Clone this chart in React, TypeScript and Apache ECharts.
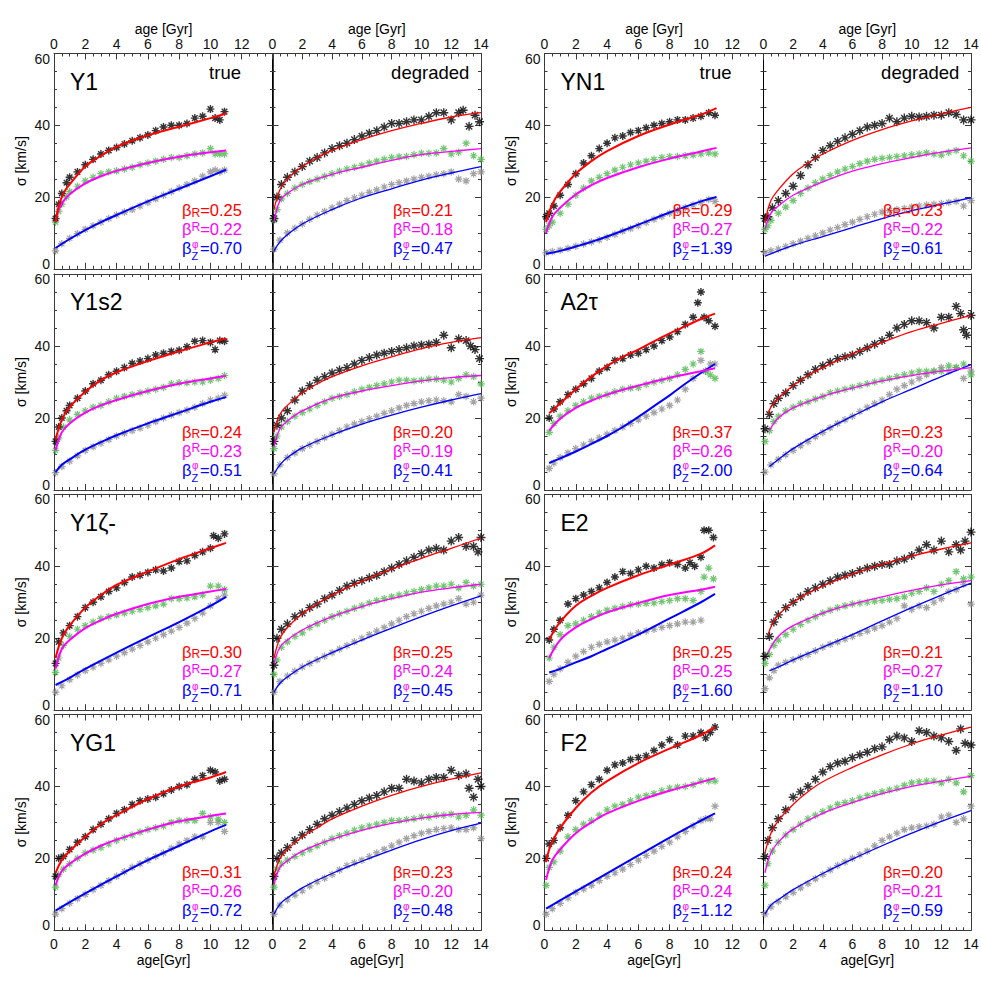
import React, { useEffect, useRef } from 'react';
import * as echarts from 'echarts';

const FONT = '"Liberation Sans", Arial, Helvetica, sans-serif';

// ---------- model names and fitted exponents ----------
const models = ['Y1', 'Y1s2', 'Y1ζ-', 'YG1', 'YN1', 'A2τ', 'E2', 'F2'];
const betaTrue = [[0.25, 0.22, 0.70], [0.24, 0.23, 0.51], [0.30, 0.27, 0.71], [0.31, 0.26, 0.72], [0.29, 0.27, 1.39], [0.37, 0.26, 2.00], [0.25, 0.25, 1.60], [0.24, 0.24, 1.12]];
const betaDeg = [[0.21, 0.18, 0.47], [0.20, 0.19, 0.41], [0.25, 0.24, 0.45], [0.23, 0.20, 0.48], [0.23, 0.22, 0.61], [0.23, 0.20, 0.64], [0.21, 0.27, 1.10], [0.20, 0.21, 0.59]];

// ---------- Y1 ----------
const Y1T_R = [[0.1,14],[0.3,18],[0.5,21],[0.8,24],[1,25.5],[1.5,27],[2,29],[2.5,30.5],[3,32],[3.5,33],[4,33.8],[4.5,34.8],[5,35.7],[5.5,36.5],[6,37.3],[6.5,38.5],[7,39.5],[7.5,40],[8,40],[8.5,40.5],[9,42],[9.5,42.5],[10,44.5],[10.3,42],[10.6,41.5],[10.9,43.8]];
const Y1T_P = [[0.1,13],[0.3,16],[0.5,18],[0.8,20],[1,21.5],[1.5,23],[2,24.5],[2.5,25.5],[3,26.5],[3.5,27],[4,27.3],[4.5,27.8],[5,28.3],[5.5,29],[6,29.5],[6.5,30],[7,30.5],[7.5,31],[8,31],[8.5,31.5],[9,32],[9.5,32.3],[10,33.5],[10.3,32],[10.6,32],[10.9,32]];
const Y1T_Z = [[0.1,5],[0.5,7],[1,8.5],[1.5,9.8],[2,11],[2.5,12],[3,13],[3.5,14],[4,15],[4.5,15.8],[5,16.5],[5.5,17.5],[6,18.5],[6.5,19.5],[7,20.5],[7.5,21.5],[8,22.5],[8.5,23.5],[9,24.5],[9.5,25.8],[10,27],[10.3,27.5],[10.6,27],[10.9,27.5]];
const Y1T_fR = [[0.1,13],[0.3,17.5],[0.6,21],[1,23.5],[2,28.5],[3,31.5],[4,34],[6,37.2],[8,39.6],[10,42],[11,43.3]];
const Y1T_fP = [[0.1,13.5],[0.3,16.5],[0.6,18.8],[1,20.8],[2,23.8],[3,25.8],[4,27.3],[6,29.5],[8,31.2],[10,32.5],[11,33]];
const Y1T_fZ = [[0.1,5.8],[1,8.3],[2,10.8],[3,13],[4,15],[6,18.8],[8,22.3],[10,25.8],[11,27.6]];
const Y1D_R = [[0.1,14],[0.3,20],[0.6,23.5],[1,25.5],[1.5,27],[2,28.5],[2.5,30],[3,31],[3.5,32.3],[4,33.5],[4.5,34.3],[5,35],[5.5,36],[6,37],[6.5,37.8],[7,38.5],[7.5,39.5],[8,40.5],[8.5,40.5],[9,41],[9.5,41.5],[10,41.5],[10.5,42.5],[11,43.5],[11.5,43.5],[12,41.5],[12.5,43.5],[12.8,44.2],[13.2,39.7],[13.6,42.8],[13.9,41]];
const Y1D_P = [[0.1,13.5],[0.3,16.5],[0.6,19.5],[1,21],[1.5,22.5],[2,23.5],[2.5,24.3],[3,25],[3.5,25.8],[4,26.5],[4.5,27.2],[5,27.8],[5.5,28.3],[6,28.8],[6.5,29.5],[7,30],[7.5,30.5],[8,31],[8.5,31.2],[9,31.3],[9.5,31.8],[10,32.2],[10.5,32.2],[11,32.3],[11.5,33.5],[12,32],[12.5,32.5],[13,35],[13.5,31.5],[14,30.5]];
const Y1D_Z = [[0.1,5.5],[0.5,8],[1,10],[1.5,11.3],[2,12.5],[2.5,13.8],[3,15],[3.5,16],[4,17],[4.5,18],[5,19],[5.5,19.8],[6,20.5],[6.5,21.3],[7,22],[7.5,22.8],[8,23.5],[8.5,24],[9,24.5],[9.5,25],[10,25.5],[10.5,25.8],[11,26.2],[11.5,26.5],[12,27],[12.5,25],[13,24.5],[13.5,26.5],[14,27]];
const Y1D_fR = [[0.1,16.5],[0.5,22],[1,25],[2,28.5],[3,31],[4,33],[6,36],[8,38.5],[10,40.5],[12,42.3],[14,43.5]];
const Y1D_fP = [[0.1,13],[0.5,19],[1,21],[2,23.5],[4,26.3],[6,28.3],[8,30.2],[10,31.8],[12,32.7],[14,33.5]];
const Y1D_fZ = [[0.1,5],[0.5,7.5],[1,9.5],[2,12.5],[4,16.5],[6,19.8],[8,22.3],[10,24.7],[12,26.7],[14,28.5]];

// ---------- Y1s2 ----------
const Y1s2T_R = [[0.1,13.5],[0.3,17.5],[0.5,20],[0.8,22],[1,23.5],[1.5,25.5],[2,27.5],[2.5,29.5],[3,30.5],[3.5,32],[4,33],[4.5,34],[5,35.2],[5.5,35.8],[6,36.5],[6.5,37.5],[7,38],[7.5,38.5],[8,38.8],[8.5,39.8],[9,41.3],[9.5,41.5],[10,41],[10.3,39],[10.6,41.5],[10.9,41.3]];
const Y1s2T_P = [[0.1,11],[0.3,14.5],[0.6,17.5],[1,19.5],[1.5,21],[2,22],[2.5,23],[3,23.5],[3.5,24.5],[4,25.5],[4.5,26],[5,26.5],[5.5,27],[6,27.5],[6.5,28],[7,28.5],[7.5,29.5],[8,29.8],[8.5,29.8],[9,30],[9.5,30],[10,30.5],[10.5,31],[10.9,31.8]];
const Y1s2T_Z = [[0.1,4.8],[0.5,6.5],[1,8],[1.5,9.5],[2,11],[2.5,12],[3,13],[3.5,14],[4,15],[4.5,15.8],[5,16.5],[5.5,17.2],[6,18],[6.5,19],[7,20],[7.5,20.8],[8,21.5],[8.5,22.2],[9,23],[9.5,24],[10,25],[10.5,25.5],[10.9,26.3]];
const Y1s2T_fR = [[0.1,14],[0.5,19.5],[1,23],[2,27.3],[3,30.5],[4,32.7],[6,35.8],[8,38.5],[10,41],[11,42]];
const Y1s2T_fP = [[0.1,11],[0.5,16],[1,18.5],[2,21.5],[3,23.5],[4,25],[6,27.5],[8,29.5],[10,31],[11,31.7]];
const Y1s2T_fZ = [[0.1,5],[0.5,7],[1,8.5],[2,11.2],[3,13.3],[4,15.2],[6,18.5],[8,21.5],[10,24.5],[11,25.8]];
const Y1s2D_R = [[0.1,13.5],[0.3,18],[0.6,20],[1,22],[1.5,25],[2,27.5],[2.5,29],[3,30.5],[3.5,31.5],[4,32.5],[4.5,33.3],[5,34],[5.5,35],[6,36],[6.5,36.8],[7,37.5],[7.5,38],[8,38.5],[8.5,39],[9,39.5],[9.5,40],[10,40.3],[10.5,40.5],[11,41],[11.5,43],[12,39.5],[12.5,42],[13,41.5],[13.3,40],[13.6,39],[13.9,36.5]];
const Y1s2D_P = [[0.1,11.5],[0.3,15],[0.6,17.5],[1,19],[1.5,20.5],[2,21.5],[2.5,22.5],[3,23.5],[3.5,24.5],[4,25.5],[4.5,26],[5,26.5],[5.5,27.3],[6,28],[6.5,28.5],[7,29],[7.5,29.5],[8,30],[8.5,30.5],[9,30.5],[9.5,30.3],[10,30.5],[10.5,30.8],[11,30.8],[11.5,30.5],[12,30],[12.5,31],[13,32],[13.5,31.5],[14,29.5]];
const Y1s2D_Z = [[0.1,4.5],[0.5,7],[1,9],[1.5,10.3],[2,11.5],[2.5,12.5],[3,13.5],[3.5,14.5],[4,15.5],[4.5,16.5],[5,17.5],[5.5,18.3],[6,19],[6.5,19.8],[7,20.5],[7.5,21.3],[8,22],[8.5,22.8],[9,23.5],[9.5,24],[10,24.5],[10.5,24.8],[11,25],[11.5,24.8],[12,24.5],[12.5,26.5],[13,26],[13.5,24.5],[14,25.5]];
const Y1s2D_fR = [[0.1,16],[0.5,21],[1,23.5],[2,27],[3,29.5],[4,31.5],[6,34.5],[8,37],[10,39.3],[12,41],[14,42.3]];
const Y1s2D_fP = [[0.1,12],[0.5,17],[1,19.2],[2,22],[4,25.5],[6,27.5],[8,29],[10,30.3],[12,31.2],[14,31.8]];
const Y1s2D_fZ = [[0.1,4.5],[0.5,7],[1,9],[2,11.7],[4,15.3],[6,18.3],[8,20.8],[10,23],[12,25],[14,26.8]];

// ---------- Y1zeta- ----------
const Y1zT_R = [[0.1,13],[0.3,19],[0.6,21.5],[1,23.5],[1.5,26],[2,28.5],[2.5,30],[3,31.5],[3.5,33],[4,34],[4.5,35.5],[5,37],[5.5,37.5],[6,38.3],[6.5,39],[7,38.7],[7.5,39.5],[8,41.3],[8.5,41.5],[9,43],[9.5,44],[10,45],[10.2,48.5],[10.5,47.8],[10.9,49]];
const Y1zT_P = [[0.1,10.5],[0.3,14.5],[0.6,18],[1,20.5],[1.5,22.5],[2,23.5],[2.5,24.5],[3,25.5],[3.5,26],[4,26.5],[4.5,27],[5,27.5],[5.5,28],[6,28.5],[6.5,29],[7,29.5],[7.5,31],[8,31],[8.5,31.2],[9,31.5],[9.5,32],[10,34.5],[10.5,34.5],[10.9,33.5]];
const Y1zT_Z = [[0.1,5],[0.5,6.8],[1,8.5],[1.5,9.8],[2,11],[2.5,12],[3,13],[3.5,14],[4,15],[4.5,16],[5,17],[5.5,18],[6,19],[6.5,20],[7,21],[7.5,22],[8,23],[8.5,24.2],[9,25.5],[9.5,27],[10,29],[10.5,31],[10.9,32]];
const Y1zT_fR = [[0.1,14.5],[0.5,20],[1,23.5],[2,28.5],[3,32],[4,34.8],[6,38.5],[8,42],[10,45],[11,46.5]];
const Y1zT_fP = [[0.1,11.5],[0.5,17],[1,19.5],[2,22.8],[3,25],[4,26.8],[6,29.5],[8,31.5],[10,33],[11,33.7]];
const Y1zT_fZ = [[0.1,7],[1,9],[2,11.5],[4,16],[6,20.3],[8,24.5],[10,29],[11,31.5]];
const Y1zD_R = [[0.1,12.5],[0.3,20],[0.6,22.5],[1,24],[1.5,26],[2,27],[2.5,28.5],[3,29.5],[3.5,31],[4,32],[4.5,33.3],[5,34.5],[5.5,35.3],[6,36],[6.5,36.8],[7,37.5],[7.5,38.5],[8,39.5],[8.5,40.5],[9,41.5],[9.5,42.5],[10,43.5],[10.5,44.5],[11,45],[11.5,44.5],[12,47],[12.5,48],[13,45.5],[13.5,45.5],[13.8,44],[14,48]];
const Y1zD_P = [[0.1,10],[0.3,14],[0.6,17.5],[1,19],[1.5,20.5],[2,21.5],[2.5,23],[3,24],[3.5,25],[4,26],[4.5,26.8],[5,27.5],[5.5,28.3],[6,29],[6.5,29.8],[7,30.5],[7.5,31],[8,31.5],[8.5,32],[9,32.5],[9.5,33],[10,33.5],[10.5,34],[11,34.5],[11.5,34.5],[12,35],[12.5,34],[13,35.5],[13.5,34.5],[14,35]];
const Y1zD_Z = [[0.1,5],[0.5,8],[1,9.5],[1.5,10.8],[2,12],[2.5,13],[3,14],[3.5,15],[4,16],[4.5,17],[5,18],[5.5,19],[6,20],[6.5,21],[7,22],[7.5,23],[8,24],[8.5,25],[9,26],[9.5,26.8],[10,27.5],[10.5,28.3],[11,29],[11.5,29.5],[12,30],[12.5,31],[13,29.5],[13.5,30],[14,32]];
const Y1zD_fR = [[0.1,14.5],[0.5,20],[1,23],[2,26.8],[3,29.5],[4,32],[6,35.8],[8,39.2],[10,42.2],[12,45],[14,47.8]];
const Y1zD_fP = [[0.1,13],[0.5,17.5],[1,19.5],[2,22.3],[4,26],[6,28.8],[8,31],[10,32.8],[12,34],[14,35]];
const Y1zD_fZ = [[0.1,5],[0.5,7.5],[1,9.2],[2,12],[4,16],[6,19.5],[8,22.8],[10,26],[12,29],[14,31.8]];

// ---------- YG1 ----------
const YG1T_R = [[0.1,15],[0.3,20],[0.6,20.5],[1,22.5],[1.5,24.5],[2,26],[2.5,28],[3,29.5],[3.5,31],[4,32.5],[4.5,33.5],[5,35],[5.5,36],[6,36.5],[6.5,37],[7,38],[7.5,39],[8,40],[8.5,40.5],[9,42],[9.5,43],[10,44.5],[10.3,44],[10.6,41.5],[10.9,42]];
const YG1T_P = [[0.1,12],[0.3,15.5],[0.6,17],[1,18.5],[1.5,20],[2,21.5],[2.5,22.3],[3,23],[3.5,24],[4,25],[4.5,25.8],[5,26.5],[5.5,27.3],[6,28],[6.5,28.5],[7,29],[7.5,30],[8,30.5],[8.5,30.5],[9,30.5],[9.5,32.5],[10,31.5],[10.5,31],[10.9,30]];
const YG1T_Z = [[0.1,4.5],[0.5,6],[1,7.5],[1.5,8.8],[2,10],[2.5,11.3],[3,12.5],[3.5,13.8],[4,15],[4.5,16.3],[5,17.5],[5.5,18.5],[6,19.5],[6.5,20.5],[7,21.5],[7.5,22.8],[8,24],[8.5,25],[9,26],[9.5,26],[10,30],[10.5,30],[10.9,27.5]];
const YG1T_fR = [[0.1,16],[0.5,19.5],[1,22],[2,26],[3,29.5],[4,32],[6,36.5],[8,40],[10,42.5],[11,44]];
const YG1T_fP = [[0.1,12.5],[0.5,16.5],[1,18.5],[2,21.3],[3,23.5],[4,25.2],[6,28],[8,30.3],[10,31.8],[11,32.5]];
const YG1T_fZ = [[0.1,5.5],[1,7.8],[2,10.3],[4,15],[6,19.5],[8,23.5],[10,27.5],[11,29.3]];
const YG1D_R = [[0.1,15],[0.3,20],[0.6,21.5],[1,23],[1.5,25],[2,26.5],[2.5,28],[3,29.5],[3.5,31],[4,32],[4.5,33],[5,34],[5.5,35],[6,36],[6.5,36.8],[7,37.5],[7.5,38.5],[8,39.5],[8.5,39.5],[9,42],[9.5,41.5],[10,41],[10.5,42],[11,42.5],[11.5,42.5],[12,44.5],[12.5,43],[13,43.5],[13.2,39.5],[13.5,37],[13.8,42],[14,40]];
const YG1D_P = [[0.1,12],[0.3,17],[0.6,18.5],[1,19.5],[1.5,20.5],[2,21.5],[2.5,22.5],[3,23.5],[3.5,24.5],[4,25.5],[4.5,26.3],[5,27],[5.5,27.8],[6,28.5],[6.5,29],[7,29.5],[7.5,30],[8,30.5],[8.5,30.5],[9,30.8],[9.5,31],[10,31.5],[10.5,31.5],[11,32],[11.5,32],[12,32.3],[12.5,31.5],[13,32],[13.5,33.5],[14,32]];
const YG1D_Z = [[0.1,4.5],[0.5,7],[1,8.5],[1.5,9.8],[2,11],[2.5,12.3],[3,13.5],[3.5,14.5],[4,15.5],[4.5,16.8],[5,18],[5.5,18.8],[6,19.5],[6.5,20.5],[7,21.5],[7.5,22.5],[8,23.5],[8.5,24.5],[9,25.5],[9.5,26.3],[10,27],[10.5,27.5],[11,28],[11.5,28.3],[12,28.5],[12.5,28],[13,28],[13.5,28.5],[14,25.5]];
const YG1D_fR = [[0.1,15],[0.5,20],[1,22.5],[2,26],[3,28.5],[4,31],[6,34.5],[8,37.5],[10,40],[12,42],[14,43.8]];
const YG1D_fP = [[0.1,12.5],[0.5,17.5],[1,19.3],[2,22],[4,25.3],[6,27.8],[8,29.7],[10,31.2],[12,32.2],[14,32.8]];
const YG1D_fZ = [[0.1,4.5],[0.5,7.3],[1,9],[2,11.8],[4,15.8],[6,19.2],[8,22.3],[10,25.2],[12,27.7],[14,29.8]];

// ---------- YN1 ----------
const YN1T_R = [[0.1,14.5],[0.3,15.5],[0.6,17.5],[1,20.5],[1.5,23.5],[2,26.5],[2.5,29.5],[3,31.5],[3.5,33.5],[4,35],[4.5,36.5],[5,37],[5.5,38],[6,38.5],[6.5,39.3],[7,40],[7.5,40.5],[8,41],[8.5,41.5],[9,41.5],[9.5,42],[10,42.5],[10.5,43.5],[10.9,42.8]];
const YN1T_P = [[0.1,11],[0.3,12],[0.5,13],[1,15.5],[1.5,18],[2,20.5],[2.5,22.5],[3,24.5],[3.5,25.5],[4,26.5],[4.5,27.5],[5,28.3],[5.5,29],[6,29.5],[6.5,30],[7,30.5],[7.5,31],[8,31.3],[8.5,31.3],[9,31.5],[9.5,31.7],[10,32],[10.5,32.3],[10.9,32]];
const YN1T_Z = [[0.1,4.5],[0.5,4.8],[1,5.2],[1.5,5.7],[2,6.3],[2.5,6.9],[3,7.5],[3.5,8.1],[4,8.8],[4.5,9.6],[5,10.5],[5.5,11.2],[6,12],[6.5,12.9],[7,13.8],[7.5,14.6],[8,15.5],[8.5,16.2],[9,17],[9.5,17.8],[10,18.5],[10.5,19.3],[10.9,18.8]];
const YN1T_fR = [[0.1,13],[0.5,18],[1,21.5],[2,26.5],[3,30],[4,32.8],[6,37],[8,40.2],[10,43],[11,44.8]];
const YN1T_fP = [[0.1,10],[0.5,14.5],[1,17],[2,20.7],[3,23.3],[4,25.3],[6,28.3],[8,30.7],[10,32.7],[11,33.7]];
const YN1T_fZ = [[0.1,4.2],[1,5],[2,6.2],[3,7.5],[4,9],[6,12.3],[8,15.7],[10,18.8],[11,20]];
const YN1D_R = [[0.1,14],[0.3,14.5],[0.6,17],[1,19],[1.5,21],[2,23],[2.5,26],[3,29],[3.5,31],[4,33],[4.5,34.3],[5,35.5],[5.5,36.5],[6,37.5],[6.5,38.5],[7,39.5],[7.5,40],[8,40.5],[8.5,42],[9,41],[9.5,42],[10,42.5],[10.5,42.3],[11,42.5],[11.5,42.8],[12,42.8],[12.5,43.5],[13,43],[13.5,41.5],[14,41.5]];
const YN1D_P = [[0.1,11],[0.3,12],[0.5,13.5],[1,15.5],[1.5,17.2],[2,19],[2.5,21],[3,22.5],[3.5,24],[4,25],[4.5,26],[5,27],[5.5,27.8],[6,28.5],[6.5,29.3],[7,30],[7.5,30.5],[8,30.8],[8.5,31],[9,31.3],[9.5,31.5],[10,31.8],[10.5,32],[11,32.3],[11.5,32],[12,31.7],[12.5,32.5],[13,33],[13.5,31.5],[14,30]];
const YN1D_Z = [[0.1,4.5],[0.5,5],[1,5.5],[1.5,6.2],[2,7],[2.5,7.7],[3,8.5],[3.5,9.2],[4,10],[4.5,10.8],[5,11.5],[5.5,12.3],[6,13],[6.5,13.8],[7,14.5],[7.5,15.2],[8,15.8],[8.5,16.2],[9,16.5],[9.5,16.8],[10,17.2],[10.5,17.5],[11,17.8],[11.5,18],[12,18.2],[12.5,18.5],[13,18.8],[13.5,17.5],[14,19]];
const YN1D_fR = [[0.1,13],[0.5,19],[1,22],[2,26.5],[3,29.5],[4,32],[6,35.8],[8,38.8],[10,41.2],[12,43.2],[14,45]];
const YN1D_fP = [[0.1,11],[0.5,15.5],[1,17.5],[2,20.5],[4,24.2],[6,27.2],[8,29.3],[10,31],[12,32.5],[14,33.7]];
const YN1D_fZ = [[0.1,3.5],[1,5],[2,6.5],[4,9],[6,11.5],[8,14],[10,16.2],[12,18],[14,19.8]];

// ---------- A2tau ----------
const A2T_R = [[0.3,20],[0.6,22.5],[1,24.5],[1.5,26.5],[2,28],[2.5,29.5],[3,31],[3.5,33],[4,34],[4.5,36],[5,36.5],[5.5,37.5],[6,38],[6.5,39],[7,40],[7.5,41.5],[8,42.5],[8.5,44],[9,46],[9.5,48],[9.8,52],[10,55],[10.2,48],[10.5,47],[10.9,45.5]];
const A2T_P = [[0.3,16],[0.6,18.5],[1,20.5],[1.5,22],[2,23.5],[2.5,24.5],[3,25.5],[3.5,26],[4,26.5],[4.5,27.3],[5,28],[5.5,28.3],[6,28.5],[6.5,29.3],[7,30],[7.5,30.5],[8,31],[8.5,32],[9,33.5],[9.5,35],[10,38.5],[10.3,33],[10.6,32],[10.9,31]];
const A2T_Z = [[0.3,6],[0.6,7.5],[1,9],[1.5,10.3],[2,11.5],[2.5,12.5],[3,13.5],[3.5,14.5],[4,15.5],[4.5,16.5],[5,17.5],[5.5,18.5],[6,19.5],[6.5,20.5],[7,21.5],[7.5,22.5],[8,23.5],[8.5,25],[9,28],[9.5,31],[10,36],[10.3,33],[10.6,35],[10.9,35]];
const A2T_fR = [[0.3,21.3],[1,24],[2,28],[3,31.5],[4,34.5],[5,37],[6,39],[7,41.3],[8,43.5],[9,45.5],[10,47.5],[10.9,49]];
const A2T_fP = [[0.3,16.5],[1,19.8],[2,22.8],[3,24.8],[4,26.5],[6,29],[8,31.2],[10,33],[10.9,33.8]];
const A2T_fZ = [[0.3,7.5],[1,8.8],[2,10.7],[3,12.8],[4,15],[5,17.5],[6,20.3],[7,23.3],[8,26.3],[9,29.5],[10,32.5],[10.9,35]];
const A2D_R = [[0.1,17],[0.4,21],[0.7,24],[1,25.5],[1.5,27],[2,29],[2.5,30.5],[3,32],[3.5,33.5],[4,34.5],[4.5,35.5],[5,36.5],[5.5,37],[6,37.5],[6.5,38.5],[7,39.5],[7.5,40.5],[8,41.5],[8.5,43],[9,45],[9.5,46],[10,47],[10.5,47],[11,46.5],[11.5,45],[12,48],[12.5,48],[13,51],[13.3,49],[13.5,44.5],[13.7,43],[14,48.5]];
const A2D_P = [[0.1,13.5],[0.4,16.5],[0.7,19],[1,20.5],[1.5,22],[2,23],[2.5,24],[3,24.5],[3.5,25.3],[4,26],[4.5,27],[5,27.5],[5.5,28],[6,28.5],[6.5,29],[7,29.5],[7.5,30],[8,30.5],[8.5,31],[9,31.5],[9.5,32],[10,32.5],[10.5,33],[11,33],[11.5,33],[12,33],[12.5,34.5],[13,34],[13.5,35],[14,32]];
const A2D_Z = [[0.1,5],[0.5,7],[1,8.5],[1.5,9.8],[2,11],[2.5,12.3],[3,13.5],[3.5,14.8],[4,16],[4.5,17.3],[5,18.5],[5.5,19.5],[6,20.5],[6.5,21.8],[7,23],[7.5,24],[8,25],[8.5,26.5],[9,28],[9.5,29],[10,30],[10.5,31],[11,32],[11.5,33],[12,34],[12.5,33],[13,34],[13.5,31],[14,33]];
const A2D_fR = [[0.3,21],[0.5,23],[1,25.5],[2,29],[3,31.8],[4,34],[6,37.8],[8,41],[10,44],[12,46.3],[14,48.5]];
const A2D_fP = [[0.4,16.5],[1,20],[2,22.8],[4,26],[6,28.3],[8,30.3],[10,31.8],[12,33],[14,34]];
const A2D_fZ = [[0.4,6.5],[1,8.5],[2,11.5],[4,16.3],[6,20.5],[8,24.5],[10,28],[12,31.5],[14,34.8]];

// ---------- E2 ----------
const E2T_R = [[0.3,19.5],[0.6,22.5],[1,25],[1.5,29.5],[2,31],[2.5,32],[3,33],[3.5,34],[4,35.5],[4.5,37],[5,38.5],[5.5,38],[6,39],[6.5,40],[7,39.5],[7.5,40.5],[8,41],[8.5,40.5],[9,39.5],[9.3,41],[9.6,40],[10,42.5],[10.2,50],[10.5,50],[10.8,48]];
const E2T_P = [[0.3,14.5],[0.6,17.5],[1,21],[1.5,23.5],[2,24],[2.5,25],[3,26],[3.5,27],[4,27.8],[4.5,28.3],[5,28.8],[5.5,29.3],[6,29.5],[6.5,29.7],[7,29.8],[7.5,30.2],[8,30.5],[8.5,31],[9,31],[9.5,30.5],[10,33],[10.2,37],[10.5,39.5],[10.8,36.5]];
const E2T_Z = [[0.3,8],[0.6,10],[1,11.5],[1.5,13.3],[2,15],[2.5,16.3],[3,17.5],[3.5,18.3],[4,19],[4.5,19.5],[5,20],[5.5,20.8],[6,21.5],[6.5,22],[7,22.5],[7.5,23],[8,23.5],[8.5,24],[9,24.5],[9.5,24.5],[10,25]];
const E2T_fR = [[0.3,19.5],[0.6,22],[1,24.5],[2,29],[3,31.8],[4,34],[6,37.5],[8,40.5],[10,43.5],[10.9,45.8]];
const E2T_fP = [[0.3,14.5],[1,19.5],[2,23],[3,25.3],[4,27.2],[6,29.8],[8,32],[10,33.5],[10.9,34.3]];
const E2T_fZ = [[0.3,10.5],[1,11.5],[2,13.3],[3,15],[4,17],[6,21],[8,25.5],[10,30],[10.9,32.3]];
const E2D_R = [[0.1,15],[0.4,20.5],[0.7,24.5],[1,26.5],[1.5,28.5],[2,30],[2.5,31.5],[3,33],[3.5,34],[4,35],[4.5,36],[5,37],[5.5,37.5],[6,38],[6.5,38.8],[7,39.5],[7.5,40],[8,40.5],[8.5,40.5],[9,41.5],[9.5,42],[10,43],[10.5,44.5],[11,46],[11.5,44.5],[12,47],[12.5,44],[13,46],[13.3,44.5],[13.6,47],[14,49.5]];
const E2D_P = [[0.1,13],[0.4,15.5],[0.7,18],[1,19.5],[1.5,21],[2,22.5],[2.5,23.8],[3,25],[3.5,26],[4,27],[4.5,27.8],[5,28.5],[5.5,29],[6,29.5],[6.5,29.8],[7,30],[7.5,30.3],[8,30.5],[8.5,30.8],[9,31],[9.5,31.5],[10,32.5],[10.5,33],[11,34],[11.5,33],[12,35],[12.5,36],[13,38.5],[13.5,36.5],[14,37]];
const E2D_Z = [[0.1,6],[0.4,9],[0.7,11],[1,12.5],[1.5,13.3],[2,14],[2.5,14.8],[3,15.5],[3.5,16.5],[4,17.5],[4.5,18.3],[5,19],[5.5,19.8],[6,20.5],[6.5,21.3],[7,22],[7.5,22.8],[8,23.5],[8.5,24.5],[9,25.5],[9.5,29],[10,28],[10.5,29],[11,28.5],[11.5,30],[12,31],[12.5,33],[13,33.5],[13.5,35],[14,29.5]];
const E2D_fR = [[0.3,21],[0.6,24],[1,26.5],[2,30],[3,32.5],[4,34.5],[6,37.8],[8,40.5],[10,42.8],[12,44.8],[14,46.5]];
const E2D_fP = [[0.3,16],[1,20.5],[2,23.5],[4,27],[6,29.5],[8,31.5],[10,33.3],[12,34.8],[14,36]];
const E2D_fZ = [[0.4,11],[1,12],[2,14],[4,17.5],[6,21],[8,24.8],[10,28.5],[12,32],[14,35.3]];

// ---------- F2 ----------
const F2T_R = [[0.1,20],[0.3,24],[0.6,25],[1,28.5],[1.5,32],[2,36],[2.5,38.5],[3,40.5],[3.5,42],[4,44.5],[4.5,46],[5,46.5],[5.5,47.5],[6,48],[6.5,48.5],[7,50],[7.5,51.5],[8,53],[8.5,51.5],[9,54],[9.5,54],[10,55],[10.3,53.5],[10.6,55],[10.9,56.5]];
const F2T_P = [[0.1,12.5],[0.3,17.5],[0.6,19],[1,22],[1.5,26],[2,28],[2.5,29.5],[3,30.5],[3.5,32],[4,33.5],[4.5,34.5],[5,35],[5.5,36],[6,37],[6.5,37.5],[7,38],[7.5,38.8],[8,39.5],[8.5,39.8],[9,40],[9.5,40.5],[10,41.5],[10.5,41.5],[10.9,41.5]];
const F2T_Z = [[0.1,4.5],[0.5,6],[1,7.5],[1.5,9],[2,10.5],[2.5,11.5],[3,12.5],[3.5,13.8],[4,15],[4.5,16],[5,17],[5.5,18.3],[6,19.5],[6.5,20.8],[7,22],[7.5,23.3],[8,24.5],[8.5,26],[9,27.5],[9.5,29],[10,30.5],[10.3,31],[10.6,31],[10.9,34.5]];
const F2T_fR = [[0.1,19],[0.3,22.5],[0.6,25.5],[1,28.5],[2,34],[3,38.3],[4,41.5],[6,46.5],[8,50.5],[10,54.3],[10.9,56.5]];
const F2T_fP = [[0.1,14],[0.5,19.5],[1,22.5],[2,27],[3,30],[4,32.5],[6,36],[8,38.8],[10,41.2],[10.9,42.3]];
const F2T_fZ = [[0.1,6],[1,8.3],[2,10.8],[4,15.8],[6,20.8],[8,25.8],[10,30.5],[10.9,32.5]];
const F2D_R = [[0.1,20.5],[0.3,25],[0.6,28.5],[1,31],[1.5,33.5],[2,37],[2.5,38.5],[3,40],[3.5,42],[4,44],[4.5,45.5],[5,46.5],[5.5,47],[6,48],[6.5,48.8],[7,49.5],[7.5,50.5],[8,51],[8.5,53],[9,54],[9.5,53.5],[10,52.5],[10.5,55.5],[11,55],[11.5,54],[12,53.5],[12.5,52.5],[13,50],[13.3,56],[13.6,52],[14,51.5]];
const F2D_P = [[0.1,12.5],[0.3,18.5],[0.6,22],[1,24.5],[1.5,26.5],[2,28],[2.5,29.5],[3,31],[3.5,32],[4,33],[4.5,34],[5,35],[5.5,35.5],[6,36],[6.5,36.8],[7,37.5],[7.5,38],[8,38.5],[8.5,39],[9,39.5],[9.5,40.3],[10,41],[10.5,41.3],[11,41.5],[11.5,41.5],[12,41],[12.5,42],[13,41],[13.5,38.5],[14,43]];
const F2D_Z = [[0.1,4.5],[0.5,6.5],[1,8],[1.5,9.3],[2,10.5],[2.5,11.8],[3,13],[3.5,14.3],[4,15.5],[4.5,16.8],[5,18],[5.5,19],[6,20],[6.5,21],[7,22],[7.5,23.5],[8,25],[8.5,26],[9,27],[9.5,28],[10,28.5],[10.5,28.8],[11,29],[11.5,29.5],[12,31.5],[12.5,32],[13,30],[13.5,31],[14,34.5]];
const F2D_fR = [[0.1,21.5],[0.5,27],[1,30.5],[2,35],[3,38.5],[4,41.3],[6,45.3],[8,48.8],[10,51.8],[12,54.3],[14,56.5]];
const F2D_fP = [[0.1,16],[0.5,21.5],[1,24.5],[2,28.2],[4,32.5],[6,35.5],[8,38],[10,40],[12,41.5],[14,42.8]];
const F2D_fZ = [[0.1,4.5],[0.5,7],[1,8.5],[2,11.3],[4,15.8],[6,19.8],[8,23.5],[10,27],[12,30.3],[14,33.3]];

// model index -> [true, degraded] -> {pts: [R, phi, Z], fit: [R, phi, Z]}
const SETS = [
  [{ pts: [Y1T_R, Y1T_P, Y1T_Z], fit: [Y1T_fR, Y1T_fP, Y1T_fZ] }, { pts: [Y1D_R, Y1D_P, Y1D_Z], fit: [Y1D_fR, Y1D_fP, Y1D_fZ] }],
  [{ pts: [Y1s2T_R, Y1s2T_P, Y1s2T_Z], fit: [Y1s2T_fR, Y1s2T_fP, Y1s2T_fZ] }, { pts: [Y1s2D_R, Y1s2D_P, Y1s2D_Z], fit: [Y1s2D_fR, Y1s2D_fP, Y1s2D_fZ] }],
  [{ pts: [Y1zT_R, Y1zT_P, Y1zT_Z], fit: [Y1zT_fR, Y1zT_fP, Y1zT_fZ] }, { pts: [Y1zD_R, Y1zD_P, Y1zD_Z], fit: [Y1zD_fR, Y1zD_fP, Y1zD_fZ] }],
  [{ pts: [YG1T_R, YG1T_P, YG1T_Z], fit: [YG1T_fR, YG1T_fP, YG1T_fZ] }, { pts: [YG1D_R, YG1D_P, YG1D_Z], fit: [YG1D_fR, YG1D_fP, YG1D_fZ] }],
  [{ pts: [YN1T_R, YN1T_P, YN1T_Z], fit: [YN1T_fR, YN1T_fP, YN1T_fZ] }, { pts: [YN1D_R, YN1D_P, YN1D_Z], fit: [YN1D_fR, YN1D_fP, YN1D_fZ] }],
  [{ pts: [A2T_R, A2T_P, A2T_Z], fit: [A2T_fR, A2T_fP, A2T_fZ] }, { pts: [A2D_R, A2D_P, A2D_Z], fit: [A2D_fR, A2D_fP, A2D_fZ] }],
  [{ pts: [E2T_R, E2T_P, E2T_Z], fit: [E2T_fR, E2T_fP, E2T_fZ] }, { pts: [E2D_R, E2D_P, E2D_Z], fit: [E2D_fR, E2D_fP, E2D_fZ] }],
  [{ pts: [F2T_R, F2T_P, F2T_Z], fit: [F2T_fR, F2T_fP, F2T_fZ] }, { pts: [F2D_R, F2D_P, F2D_Z], fit: [F2D_fR, F2D_fP, F2D_fZ] }],
];

// ---------- layout (pixels) ----------
const COL_L = [54, 272.5, 544.5, 763.5];
const COL_R = [273, 481, 763.5, 971];
const ROW_T = [53.5, 274, 494.3, 714.5];
const ROW_B = [268.8, 490, 710.2, 930.3];

const PT_COLORS = ['#000000', '#4fb84f', '#8c8c8c'];
const FIT_COLORS = ['#ff0000', '#ff00ff', '#0000ff'];
const AXIS_COLOR = '#3a3a3a';
const STAR = 'path://M5,0L5,10M0,5L10,5M1.5,1.5L8.5,8.5M1.5,8.5L8.5,1.5';
const BFS = 16.5; // beta label font size
const SFS = 12; // sub/superscript font size

function buildOption() {
  const grid: any[] = [];
  const xAxis: any[] = [];
  const yAxis: any[] = [];
  const series: any[] = [];
  const graphic: any[] = [];

  const txt = (x: number, y: number, text: string, fill: string, size: number, align = 'left', rotation = 0) => {
    graphic.push({
      type: 'text', x, y, rotation, silent: true, z: 100,
      style: { text, fill, fontSize: size, fontFamily: FONT, align, verticalAlign: 'middle' },
    });
  };
  const rich = (x: number, y: number, text: string, richStyles: any) => {
    graphic.push({
      type: 'text', x, y, silent: true, z: 100,
      style: { text, rich: richStyles, fontSize: BFS, fontFamily: FONT, align: 'left', verticalAlign: 'middle' },
    });
  };
  const tok = (fill: string, size: number, extra: any = {}) => ({ fill, fontSize: size, fontFamily: FONT, ...extra });

  const tickStyle = { color: AXIS_COLOR, width: 1 };
  const labelBase = { color: '#111', fontSize: 14, fontFamily: FONT };

  const makeX = (g: number, pos: string, show: boolean, hideMax: boolean, margin: number) => ({
    type: 'value', gridIndex: g, position: pos, min: 0, max: 14, interval: 2,
    axisLine: { show: true, onZero: false, lineStyle: tickStyle },
    axisTick: { show: true, inside: true, length: 6, lineStyle: tickStyle },
    minorTick: { show: true, splitNumber: 4, length: 3, lineStyle: tickStyle },
    splitLine: { show: false }, minorSplitLine: { show: false },
    axisLabel: { show, margin, ...labelBase, showMinLabel: true, showMaxLabel: !hideMax },
  });

  const makeY = (g: number, pos: string, show: boolean, color: string) => ({
    type: 'value', gridIndex: g, position: pos, min: 0, max: 60, interval: 20,
    axisLine: { show: true, onZero: false, lineStyle: { color, width: 1 } },
    axisTick: { show: true, inside: true, length: 6, lineStyle: tickStyle },
    minorTick: { show: true, splitNumber: 4, length: 3, lineStyle: tickStyle },
    splitLine: { show: false }, minorSplitLine: { show: false },
    axisLabel: {
      show, margin: 4, ...labelBase,
      formatter: (v: number) => (v === 0 ? '{lo|0}' : v === 60 ? '{hi|60}' : '{n|' + v + '}'),
      rich: {
        lo: { ...labelBase, padding: [0, 0, 10, 0] },
        hi: { ...labelBase, padding: [10, 0, 0, 0] },
        n: { ...labelBase },
      },
    },
  });

  let g = 0;
  for (let m = 0; m < models.length; m++) {
    for (let d = 0; d < 2; d++) {
      const row = m % 4;
      const col = (m < 4 ? 0 : 2) + d;
      const L = COL_L[col], R = COL_R[col], T = ROW_T[row], B = ROW_B[row];
      const isTrue = d === 0;
      grid.push({ left: L, top: T, width: R - L, height: B - T, containLabel: false, outerBoundsMode: 'none' });
      xAxis.push(makeX(g, 'bottom', row === 3, isTrue, 7));
      xAxis.push(makeX(g, 'top', row === 0, isTrue, 3));
      yAxis.push(makeY(g, 'left', isTrue, isTrue ? AXIS_COLOR : '#000'));
      yAxis.push(makeY(g, 'right', false, AXIS_COLOR));

      const set = SETS[m][d];
      const order = [2, 1, 0];
      for (const k of order) {
        series.push({
          type: 'scatter', xAxisIndex: 2 * g, yAxisIndex: 2 * g, data: set.pts[k],
          symbol: STAR, symbolSize: k === 0 ? (isTrue ? 8 : 9) : 7.5, silent: true,
          itemStyle: { color: 'rgba(0,0,0,0)', borderColor: PT_COLORS[k], borderWidth: k === 0 ? 1.4 : 1.2 },
          emphasis: { disabled: true }, z: 2,
        });
      }
      for (const k of order) {
        series.push({
          type: 'line', xAxisIndex: 2 * g, yAxisIndex: 2 * g, data: set.fit[k],
          showSymbol: false, symbol: 'none', smooth: 0.4, silent: true,
          lineStyle: { color: FIT_COLORS[k], width: isTrue ? 2 : 1.3 },
          emphasis: { disabled: true }, z: 3,
        });
      }

      // panel texts
      const cx = (L + R) / 2;
      if (isTrue) {
        txt(L + 16, T + 28.3, models[m], '#000', 23);
        txt(col === 0 ? 20.5 : 510.5, (T + B) / 2, 'σ [km/s]', '#000', 14, 'center', Math.PI / 2);
      }
      if (row === 0) {
        if (isTrue) txt(R - 32, T + 19, 'true', '#000', 18.5, 'right');
        else txt(R - 11.7, T + 19, 'degraded', '#000', 18.5, 'right');
        txt(cx, 28.5, 'age [Gyr]', '#000', 14, 'center');
      }
      if (row === 3) txt(cx, 960, 'age[Gyr]', '#000', 14, 'center');

      const b = isTrue ? betaTrue[m] : betaDeg[m];
      const xb = isTrue ? R - 91 : R - 88;
      const c1 = B - 58.4, c2 = B - 39.4, c3 = B - 20.4;
      const f = (v: number) => '=' + v.toFixed(2);
      const [cR, cP, cZ] = FIT_COLORS;
      rich(xb, c1, '{b|β}{s|R}{v|' + f(b[0]) + '}', {
        b: tok(cR, BFS, { lineHeight: 16.5 }), s: tok(cR, SFS, { verticalAlign: 'bottom' }), v: tok(cR, BFS, { lineHeight: 16.5 }),
      });
      rich(xb, c2, '{b|β}{s|R}{v|' + f(b[1]) + '}', {
        b: tok(cP, BFS, { lineHeight: 16.5 }), s: tok(cP, SFS, { verticalAlign: 'top' }), v: tok(cP, BFS, { lineHeight: 16.5 }),
      });
      txt(xb, c3, 'β', cZ, BFS);
      txt(xb + 9.6, c3 + 8, 'Z', cZ, 11);
      txt(xb + 10, c3 - 3.8, 'φ', cP, 10);
      txt(xb + 18.1, c3, f(b[2]), cZ, BFS);
      g++;
    }
  }

  return { animation: false, backgroundColor: '#ffffff', grid, xAxis, yAxis, series, graphic };
}

export default function App() {
  const ref = useRef<HTMLDivElement>(null);
  useEffect(() => {
    document.body.style.margin = '0';
    const chart = echarts.init(ref.current as HTMLDivElement, null, { renderer: 'svg', width: 981, height: 981 });
    chart.setOption(buildOption() as any);
    return () => chart.dispose();
  }, []);
  return <div ref={ref} style={{ width: 981, height: 981, position: 'absolute', left: 0, top: 0, background: '#fff' }} />;
}
